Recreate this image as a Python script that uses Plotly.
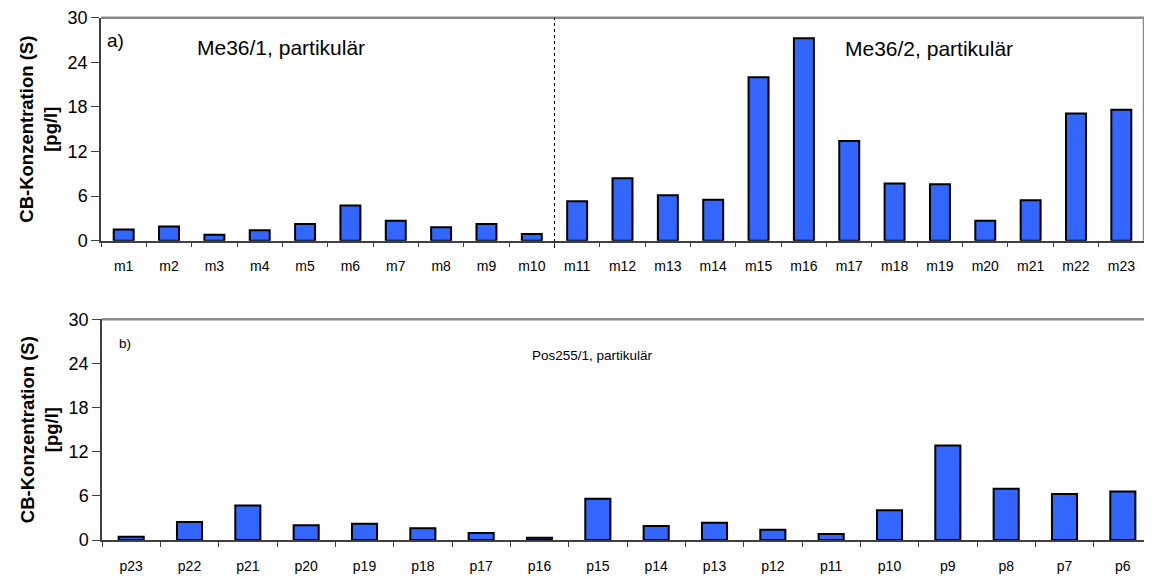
import plotly.graph_objects as go

# ---- data ----
top_categories = ["m1", "m2", "m3", "m4", "m5", "m6", "m7", "m8", "m9", "m10",
                  "m11", "m12", "m13", "m14", "m15", "m16", "m17", "m18", "m19",
                  "m20", "m21", "m22", "m23"]
top_values = [1.5, 1.9, 0.8, 1.4, 2.25, 4.75, 2.7, 1.8, 2.25, 0.9,
              5.3, 8.4, 6.1, 5.5, 22.0, 27.25, 13.4, 7.7, 7.6,
              2.7, 5.45, 17.1, 17.6]

bottom_categories = ["p23", "p22", "p21", "p20", "p19", "p18", "p17", "p16",
                     "p15", "p14", "p13", "p12", "p11", "p10", "p9", "p8", "p7", "p6"]
bottom_values = [0.45, 2.45, 4.7, 2.0, 2.2, 1.6, 0.95, 0.3,
                 5.6, 1.9, 2.35, 1.4, 0.8, 4.05, 12.85, 6.95, 6.25, 6.6]

y_ticks = [0, 6, 12, 18, 24, 30]
y_title = "<b>CB-Konzentration (S)<br>[pg/l]</b>"

# the page body has an 8px default margin; the figure is sized to fit the window
OFF = 8
W, H = 1152 - OFF, 577 - OFF
FONT = "Liberation Sans, Arial, sans-serif"
BAR = "#3366FF"

def px(x):
    return (x - OFF) / W

def py(y):
    return 1 - (y - OFF) / H

fig = go.Figure()
fig.add_trace(go.Bar(x=top_categories, y=top_values, xaxis="x", yaxis="y",
                     marker=dict(color=BAR, line=dict(color="black", width=2)),
                     width=0.44, showlegend=False))
fig.add_trace(go.Bar(x=bottom_categories, y=bottom_values, xaxis="x2", yaxis="y2",
                     marker=dict(color=BAR, line=dict(color="black", width=2)),
                     width=0.43, showlegend=False))

xcommon = dict(type="category", showline=True, linecolor="#404040", linewidth=1.5,
               ticks="outside", tickson="boundaries", ticklen=5, tickcolor="#404040",
               tickwidth=1, showgrid=False, zeroline=False, automargin=False,
               tickfont=dict(family=FONT, size=14, color="black"),
               ticklabelstandoff=12)
ycommon = dict(range=[0, 30], tickvals=y_ticks, showline=True, linecolor="#404040",
               linewidth=1.5, ticks="outside", ticklen=8, tickcolor="#404040",
               tickwidth=1, showgrid=False, zeroline=False, automargin=False,
               tickfont=dict(family=FONT, size=18, color="black"),
               title=dict(text=y_title, font=dict(family=FONT, size=18.5, color="black"),
                          standoff=5))

fig.update_layout(
    width=W, height=H,
    margin=dict(l=0, r=0, t=0, b=0, autoexpand=False),
    paper_bgcolor="white", plot_bgcolor="white",
    xaxis=dict(domain=[px(101), px(1144)], anchor="y", **xcommon),
    yaxis=dict(domain=[py(240.7), py(17.7)], anchor="x", **ycommon),
    xaxis2=dict(domain=[px(102), 1.0], anchor="y2", **xcommon),
    yaxis2=dict(domain=[py(540), py(319.3)], anchor="x2", **ycommon),
    bargap=0.56,
    shapes=[
        # top panel frame (top + right)
        dict(type="line", xref="paper", yref="paper", x0=px(101), x1=px(1144),
             y0=py(17.7), y1=py(17.7), line=dict(color="#8a8a8a", width=2.5)),
        dict(type="line", xref="paper", yref="paper", x0=px(1144), x1=px(1144),
             y0=py(17.7), y1=py(240.7), line=dict(color="#8a8a8a", width=2.5)),
        # bottom panel top border
        dict(type="line", xref="paper", yref="paper", x0=px(102), x1=1.0,
             y0=py(319.3), y1=py(319.3), line=dict(color="#8a8a8a", width=2.5)),
        # dotted separator between m10 and m11
        dict(type="line", xref="x", yref="paper", x0=9.5, x1=9.5,
             y0=py(248), y1=py(17.7), line=dict(color="black", width=1, dash="dot")),
    ],
    annotations=[
        dict(text="a)", xref="paper", yref="paper", x=px(105), y=py(40),
             xanchor="left", yanchor="middle", showarrow=False,
             font=dict(family=FONT, size=19, color="black")),
        dict(text="Me36/1, partikulär", xref="paper", yref="paper", x=px(195), y=py(47),
             xanchor="left", yanchor="middle", showarrow=False,
             font=dict(family=FONT, size=21, color="black")),
        dict(text="Me36/2, partikulär", xref="paper", yref="paper", x=px(843), y=py(48),
             xanchor="left", yanchor="middle", showarrow=False,
             font=dict(family=FONT, size=21, color="black")),
        dict(text="b)", xref="paper", yref="paper", x=px(117), y=py(343),
             xanchor="left", yanchor="middle", showarrow=False,
             font=dict(family=FONT, size=13.5, color="black")),
        dict(text="Pos255/1, partikulär", xref="paper", yref="paper", x=px(530), y=py(355),
             xanchor="left", yanchor="middle", showarrow=False,
             font=dict(family=FONT, size=13.5, color="black")),
    ],
)

fig.write_html("out.html")
